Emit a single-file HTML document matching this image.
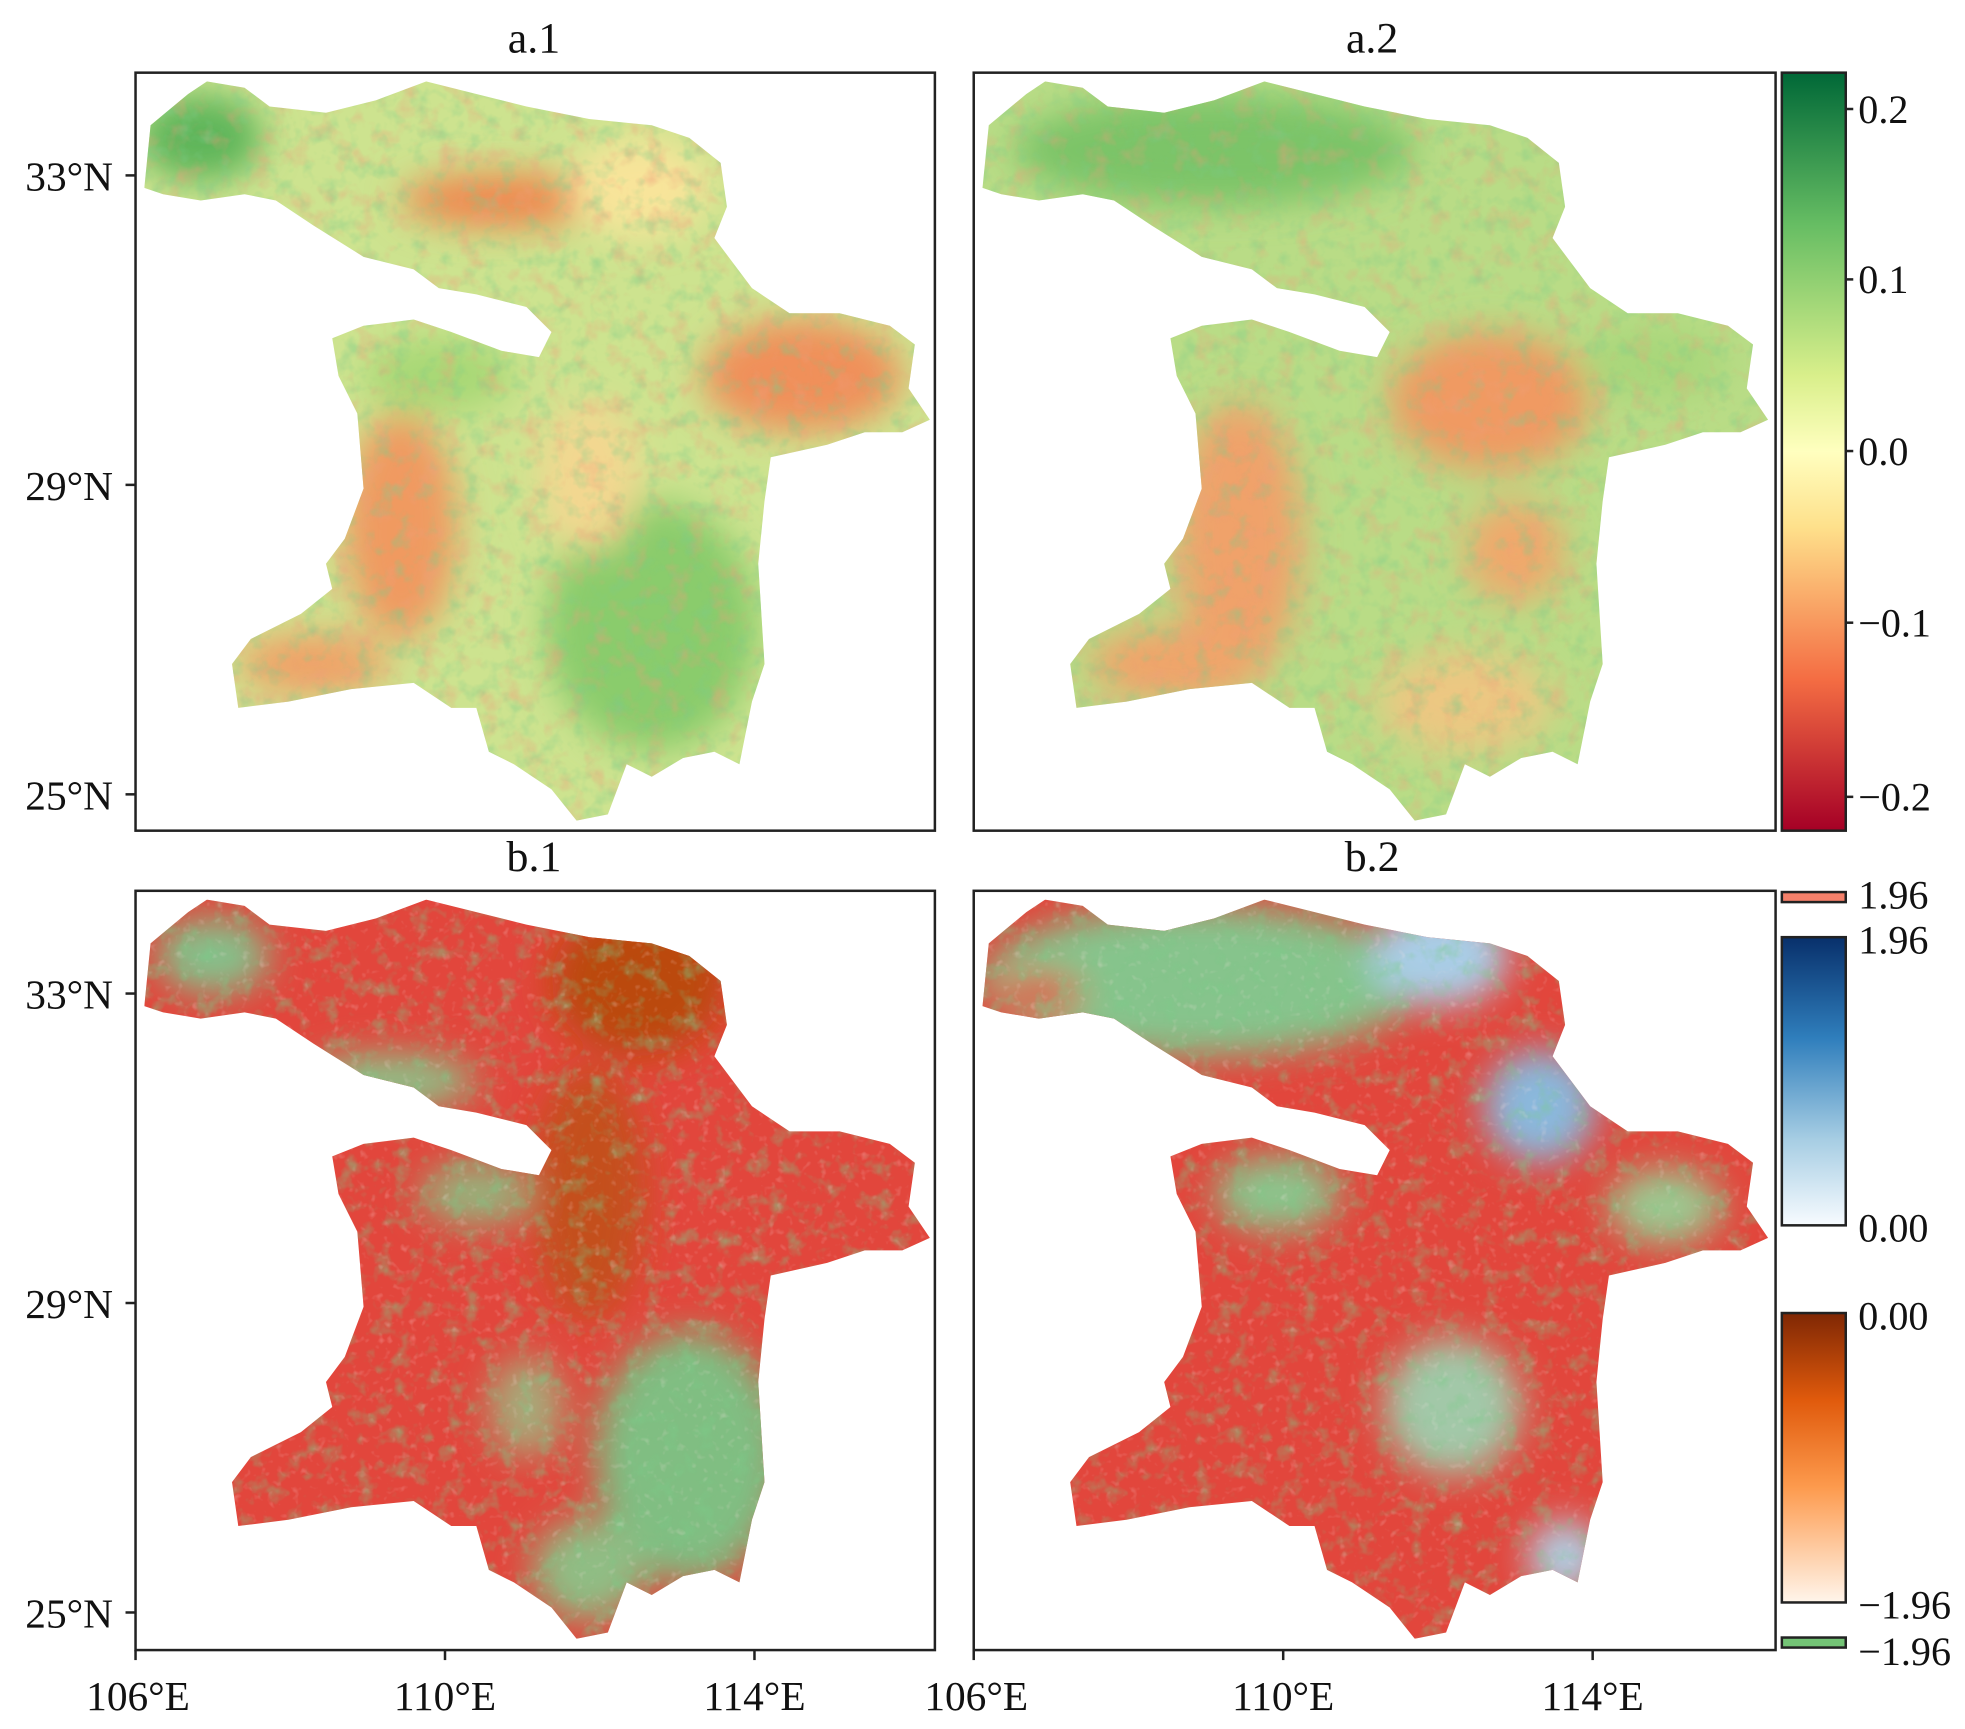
<!DOCTYPE html>
<html><head><meta charset="utf-8"><style>
html,body{margin:0;padding:0;background:#fff;width:1965px;height:1729px;overflow:hidden}
svg{display:block}
text{font-family:"Liberation Serif",serif;fill:#111}
</style></head><body>
<svg width="1965" height="1729" viewBox="0 0 1568 1380" xmlns="http://www.w3.org/2000/svg">
<defs>
<clipPath id="m"><polygon points="115,150 120,100 150,75 165,65 195,70 215,85 260,90 300,80 340,65 380,75 420,85 470,95 520,100 550,110 575,130 580,165 570,190 600,230 630,250 670,250 710,260 730,275 725,310 742,335 720,345 690,345 660,355 615,365 610,400 605,450 610,530 600,560 590,610 570,600 545,605 520,620 500,610 485,650 460,655 440,630 410,610 390,600 380,565 360,565 330,545 280,550 230,560 190,565 185,530 200,510 240,490 265,470 260,450 275,430 290,390 285,330 270,300 265,270 290,260 330,255 360,265 400,280 430,285 440,265 420,245 380,235 350,230 330,215 290,205 250,180 220,160 195,155 160,160 130,155"/></clipPath>
<filter id="bl" x="-20%" y="-20%" width="140%" height="140%"><feGaussianBlur stdDeviation="14"/></filter>
<filter id="nr" x="0" y="0" width="100%" height="100%"><feTurbulence type="fractalNoise" baseFrequency="0.06" numOctaves="3" seed="3"/><feColorMatrix type="matrix" values="0 0 0 0 0.85 0 0 0 0 0.35 0 0 0 0 0.2 2.2 0 0 0 -1.1"/></filter>
<filter id="ng" x="0" y="0" width="100%" height="100%"><feTurbulence type="fractalNoise" baseFrequency="0.07" numOctaves="3" seed="9"/><feColorMatrix type="matrix" values="0 0 0 0 0.2 0 0 0 0 0.6 0 0 0 0 0.25 0 2.2 0 0 -1.1"/></filter>
<filter id="nw" x="0" y="0" width="100%" height="100%"><feTurbulence type="fractalNoise" baseFrequency="0.15" numOctaves="2" seed="5"/><feColorMatrix type="matrix" values="0 0 0 0 1 0 0 0 0 0.8 0 0 0 0 0.8 0 0 2 0 -1.2"/></filter>
<linearGradient id="rdylgn" x1="0" y1="0" x2="0" y2="1"><stop offset="0" stop-color="#006837"/><stop offset="0.2" stop-color="#66bd63"/><stop offset="0.4" stop-color="#d9ef8b"/><stop offset="0.5" stop-color="#ffffbf"/><stop offset="0.6" stop-color="#fee08b"/><stop offset="0.8" stop-color="#f46d43"/><stop offset="1" stop-color="#a50026"/></linearGradient>
<linearGradient id="blu" x1="0" y1="0" x2="0" y2="1"><stop offset="0" stop-color="#08306b"/><stop offset="0.35" stop-color="#2f7ebc"/><stop offset="0.7" stop-color="#a6cde3"/><stop offset="1" stop-color="#f7fbff"/></linearGradient>
<linearGradient id="org" x1="0" y1="0" x2="0" y2="1"><stop offset="0" stop-color="#7f2704"/><stop offset="0.3" stop-color="#e05a0c"/><stop offset="0.6" stop-color="#fd9a4d"/><stop offset="1" stop-color="#fff5eb"/></linearGradient>
</defs>

<!-- a.1 -->
<g clip-path="url(#m)">
<rect x="100" y="55" width="650" height="610" fill="#cde38f"/>
<g filter="url(#bl)">
<ellipse cx="160" cy="110" rx="50" ry="35" fill="#5fb65a"/>
<ellipse cx="400" cy="160" rx="80" ry="22" fill="#f08850"/>
<ellipse cx="510" cy="150" rx="55" ry="40" fill="#f8e49a"/>
<ellipse cx="640" cy="300" rx="80" ry="45" fill="#f0905a"/>
<ellipse cx="320" cy="420" rx="45" ry="90" fill="#f09a60"/>
<ellipse cx="250" cy="530" rx="60" ry="25" fill="#f0a268"/>
<ellipse cx="520" cy="500" rx="85" ry="100" fill="#8acc6c"/>
<ellipse cx="350" cy="300" rx="60" ry="30" fill="#a8d876"/>
<ellipse cx="470" cy="380" rx="40" ry="60" fill="#f3d790"/>
</g>
<rect x="100" y="55" width="650" height="610" filter="url(#nr)" opacity="0.5"/>
<rect x="100" y="55" width="650" height="610" filter="url(#ng)" opacity="0.5"/>
</g>
<!-- a.2 -->
<g transform="translate(669,0)"><g clip-path="url(#m)">
<rect x="100" y="55" width="650" height="610" fill="#b9dc86"/>
<g filter="url(#bl)">
<ellipse cx="300" cy="120" rx="160" ry="45" fill="#7cc468"/>
<ellipse cx="520" cy="320" rx="80" ry="55" fill="#f09a62"/>
<ellipse cx="320" cy="430" rx="50" ry="110" fill="#f0a26a"/>
<ellipse cx="270" cy="530" rx="70" ry="30" fill="#f0a46a"/>
<ellipse cx="540" cy="440" rx="40" ry="40" fill="#f0a86c"/>
<ellipse cx="500" cy="560" rx="70" ry="40" fill="#ecc782"/>
<ellipse cx="650" cy="290" rx="60" ry="30" fill="#a9d77a"/>
</g>
<rect x="100" y="55" width="650" height="610" filter="url(#nr)" opacity="0.45"/>
<rect x="100" y="55" width="650" height="610" filter="url(#ng)" opacity="0.45"/>
</g></g>
<!-- b.1 -->
<g transform="translate(0,653)"><g clip-path="url(#m)">
<rect x="100" y="55" width="650" height="610" fill="#e2463c"/>
<g filter="url(#bl)">
<ellipse cx="510" cy="130" rx="70" ry="60" fill="#bb4a0e"/>
<ellipse cx="470" cy="300" rx="45" ry="100" fill="#c4501e"/>
<ellipse cx="170" cy="110" rx="45" ry="30" fill="#86c08a"/>
<ellipse cx="310" cy="210" rx="70" ry="22" fill="#8fbf86"/>
<ellipse cx="550" cy="510" rx="75" ry="100" fill="#80be82"/>
<ellipse cx="470" cy="600" rx="45" ry="40" fill="#90bd84"/>
<ellipse cx="380" cy="300" rx="45" ry="25" fill="#98b07a"/>
<ellipse cx="420" cy="470" rx="30" ry="40" fill="#a8a878"/>
</g>
<rect x="100" y="55" width="650" height="610" filter="url(#ng)" opacity="0.6"/>
<rect x="100" y="55" width="650" height="610" filter="url(#nw)" opacity="0.4"/>
</g></g>
<!-- b.2 -->
<g transform="translate(669,653)"><g clip-path="url(#m)">
<rect x="100" y="55" width="650" height="610" fill="#e2463c"/>
<g filter="url(#bl)">
<ellipse cx="290" cy="130" rx="175" ry="60" fill="#86c48c"/>
<ellipse cx="160" cy="140" rx="35" ry="15" fill="#e2463c"/>
<ellipse cx="480" cy="110" rx="55" ry="40" fill="#a9cde6"/>
<ellipse cx="560" cy="230" rx="45" ry="45" fill="#8ab8dc"/>
<ellipse cx="350" cy="300" rx="50" ry="30" fill="#8cc48c"/>
<ellipse cx="660" cy="310" rx="45" ry="30" fill="#9cc890"/>
<ellipse cx="490" cy="470" rx="55" ry="55" fill="#a2c8a8"/>
<ellipse cx="580" cy="590" rx="30" ry="30" fill="#b0cce0"/>
</g>
<rect x="100" y="55" width="650" height="610" filter="url(#ng)" opacity="0.55"/>
<rect x="100" y="55" width="650" height="610" filter="url(#nw)" opacity="0.4"/>
</g></g>

<!-- frames -->
<g fill="none" stroke="#222" stroke-width="2">
<rect x="108" y="58" width="638" height="605"/>
<rect x="777" y="58" width="640" height="605"/>
<rect x="108" y="711" width="638" height="606"/>
<rect x="777" y="711" width="640" height="606"/>
</g>
<g stroke="#222" stroke-width="2">
<line x1="100" y1="140" x2="108" y2="140"/><line x1="100" y1="387" x2="108" y2="387"/><line x1="100" y1="634" x2="108" y2="634"/>
<line x1="100" y1="793" x2="108" y2="793"/><line x1="100" y1="1040" x2="108" y2="1040"/><line x1="100" y1="1287" x2="108" y2="1287"/>
<line x1="108" y1="1317" x2="108" y2="1325"/><line x1="355" y1="1317" x2="355" y2="1325"/><line x1="602" y1="1317" x2="602" y2="1325"/>
<line x1="777" y1="1317" x2="777" y2="1325"/><line x1="1024" y1="1317" x2="1024" y2="1325"/><line x1="1271" y1="1317" x2="1271" y2="1325"/>
</g>
<g font-size="35" text-anchor="middle">
<text x="426" y="42">a.1</text><text x="1095" y="42">a.2</text>
<text x="426" y="695">b.1</text><text x="1095" y="695">b.2</text>
</g>
<g font-size="33" text-anchor="end">
<text x="90" y="152">33°N</text><text x="90" y="399">29°N</text><text x="90" y="646">25°N</text>
<text x="90" y="805">33°N</text><text x="90" y="1052">29°N</text><text x="90" y="1299">25°N</text>
</g>
<g font-size="33" text-anchor="middle">
<text x="110" y="1365">106°E</text><text x="355" y="1365">110°E</text><text x="602" y="1365">114°E</text>
<text x="779" y="1365">106°E</text><text x="1024" y="1365">110°E</text><text x="1271" y="1365">114°E</text>
</g>
<rect x="1422" y="58" width="51" height="605" fill="url(#rdylgn)" stroke="#222" stroke-width="2"/>
<g stroke="#222" stroke-width="2">
<line x1="1473" y1="87" x2="1479" y2="87"/><line x1="1473" y1="223" x2="1479" y2="223"/><line x1="1473" y1="360" x2="1479" y2="360"/><line x1="1473" y1="497" x2="1479" y2="497"/><line x1="1473" y1="636" x2="1479" y2="636"/>
</g>
<g font-size="32">
<text x="1483" y="98">0.2</text><text x="1483" y="234">0.1</text><text x="1483" y="371">0.0</text><text x="1483" y="508">−0.1</text><text x="1483" y="647">−0.2</text>
</g>
<rect x="1422" y="712" width="51" height="8" fill="#f4806a" stroke="#222" stroke-width="2"/>
<rect x="1422" y="748" width="51" height="230" fill="url(#blu)" stroke="#222" stroke-width="2"/>
<rect x="1422" y="1048" width="51" height="231" fill="url(#org)" stroke="#222" stroke-width="2"/>
<rect x="1422" y="1307" width="51" height="8" fill="#74c476" stroke="#222" stroke-width="2"/>
<g font-size="32">
<text x="1483" y="725">1.96</text><text x="1483" y="761">1.96</text><text x="1483" y="991">0.00</text><text x="1483" y="1061">0.00</text><text x="1483" y="1292">−1.96</text><text x="1483" y="1329">−1.96</text>
</g>
</svg>
</body></html>
